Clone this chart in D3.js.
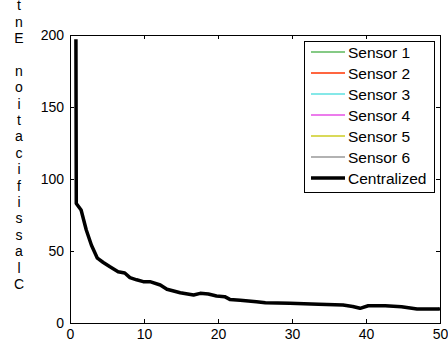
<!DOCTYPE html>
<html lang="en">
<head>
  <meta charset="UTF-8" />
  <title>Classification Entropy</title>
  <style>
    body { margin: 0; background: #fff; }
    svg { display: block; font-family: 'Liberation Sans', Arial, sans-serif; }
    .axis text { font-size: 14px; fill: #000; }
    .axis line, .axis path { stroke: #000; shape-rendering: crispEdges; }
    .legend text { font-size: 15.5px; fill: #000; }
    .ylabel text { font-size: 14px; fill: #000; }
  </style>
</head>
<body>
  <svg width="448" height="343"></svg>

  <script src="https://d3js.org/d3.v7.min.js"></script>
  <script>
    // --- data
    const iterations = [0.8, 0.85, 1.5, 2.2, 2.9, 3.7, 4.5, 5.4, 6.5, 7.4, 8.1, 9.0, 9.9,
      10.8, 12.2, 13.1, 14.9, 16.7, 17.6, 18.7, 19.8, 20.9, 21.6, 23, 25.2, 26.4, 29.7,
      33.6, 36.9, 38.2, 39.2, 40.3, 42.6, 44.8, 46.9, 49.8, 50];
    const centralized = [197, 83, 78.5, 64.6, 54, 45, 42, 39, 35.6, 34.7, 31.5, 30, 28.7,
      28.7, 26.4, 23.4, 21, 19.4, 20.6, 20.1, 18.7, 18.3, 16.4, 15.8, 14.8, 14.1, 13.7,
      13, 12.5, 11.5, 10.2, 12, 12, 11.3, 9.7, 9.7, 10];
    const legendNames = ["Sensor 1", "Sensor 2", "Sensor 3", "Sensor 4", "Sensor 5", "Sensor 6", "Centralized"];
    const legendColors = ["#5cb85c", "#ff3300", "#5ce0e0", "#e650e6", "#cccc22", "#999999", "#000000"];
    const legendWidths = [1.5, 1.5, 1.5, 1.5, 1.5, 1.5, 3.5];
    const xTicks = [0, 10, 20, 30, 40, 50];
    const yTicks = [0, 50, 100, 150, 200];
    // only the part of the label that fits in the picture
    const yLabel = "Classification Ent";

    const data = iterations.map((x, i) => ({ x, y: centralized[i] }));

    // --- set up SVG
    const svg = d3.select("svg");
    const margin = { top: 35, right: 8, bottom: 20, left: 70 };
    const width = +svg.attr("width") - margin.left - margin.right;
    const height = +svg.attr("height") - margin.top - margin.bottom;
    const g = svg.append("g").attr("transform", `translate(${margin.left},${margin.top})`);

    const x = d3.scaleLinear().domain([0, 50]).range([0, width]);
    const y = d3.scaleLinear().domain([0, 200]).range([height, 0]);

    // axes, matlab style: ticks inside on all four sides
    g.append("g").attr("class", "axis")
      .attr("transform", `translate(0,${height})`)
      .call(d3.axisBottom(x).tickValues(xTicks).tickSizeInner(-4).tickSizeOuter(0).tickPadding(6));
    g.append("g").attr("class", "axis")
      .call(d3.axisLeft(y).tickValues(yTicks).tickSizeInner(-4).tickSizeOuter(0).tickPadding(6));
    g.append("g").attr("class", "axis")
      .call(d3.axisTop(x).tickValues(xTicks).tickSizeInner(-4).tickSizeOuter(0).tickFormat(""));
    g.append("g").attr("class", "axis")
      .attr("transform", `translate(${width},0)`)
      .call(d3.axisRight(y).tickValues(yTicks).tickSizeInner(-4).tickSizeOuter(0).tickFormat(""));

    // line
    const line = d3.line().x(d => x(d.x)).y(d => y(d.y));
    g.append("path").datum(data)
      .attr("d", line)
      .attr("fill", "none")
      .attr("stroke", "#000")
      .attr("stroke-width", 3.5)
      .attr("stroke-linejoin", "round");

    // legend
    const lg = svg.append("g").attr("class", "legend").attr("transform", "translate(304,41)");
    lg.append("rect").attr("width", 130).attr("height", 151)
      .attr("fill", "#fff").attr("stroke", "#000").attr("shape-rendering", "crispEdges");
    const rows = lg.selectAll("g.row").data(legendNames).join("g")
      .attr("class", "row")
      .attr("transform", (d, i) => `translate(0,${11 + i * 21})`);
    rows.append("line")
      .attr("x1", 7).attr("x2", 41)
      .attr("stroke", (d, i) => legendColors[i])
      .attr("stroke-width", (d, i) => legendWidths[i]);
    rows.append("text")
      .attr("x", 44).attr("dy", "0.36em")
      .text(d => d);

    // y label: upright letters stacked bottom to top
    const yl = svg.append("g").attr("class", "ylabel");
    yl.selectAll("text").data(yLabel.split("")).join("text")
      .attr("x", 19)
      .attr("y", (d, i) => 284 - i * 16.4)
      .attr("text-anchor", "middle")
      .attr("dy", "0.36em")
      .text(d => d);
  </script>
</body>
</html>
